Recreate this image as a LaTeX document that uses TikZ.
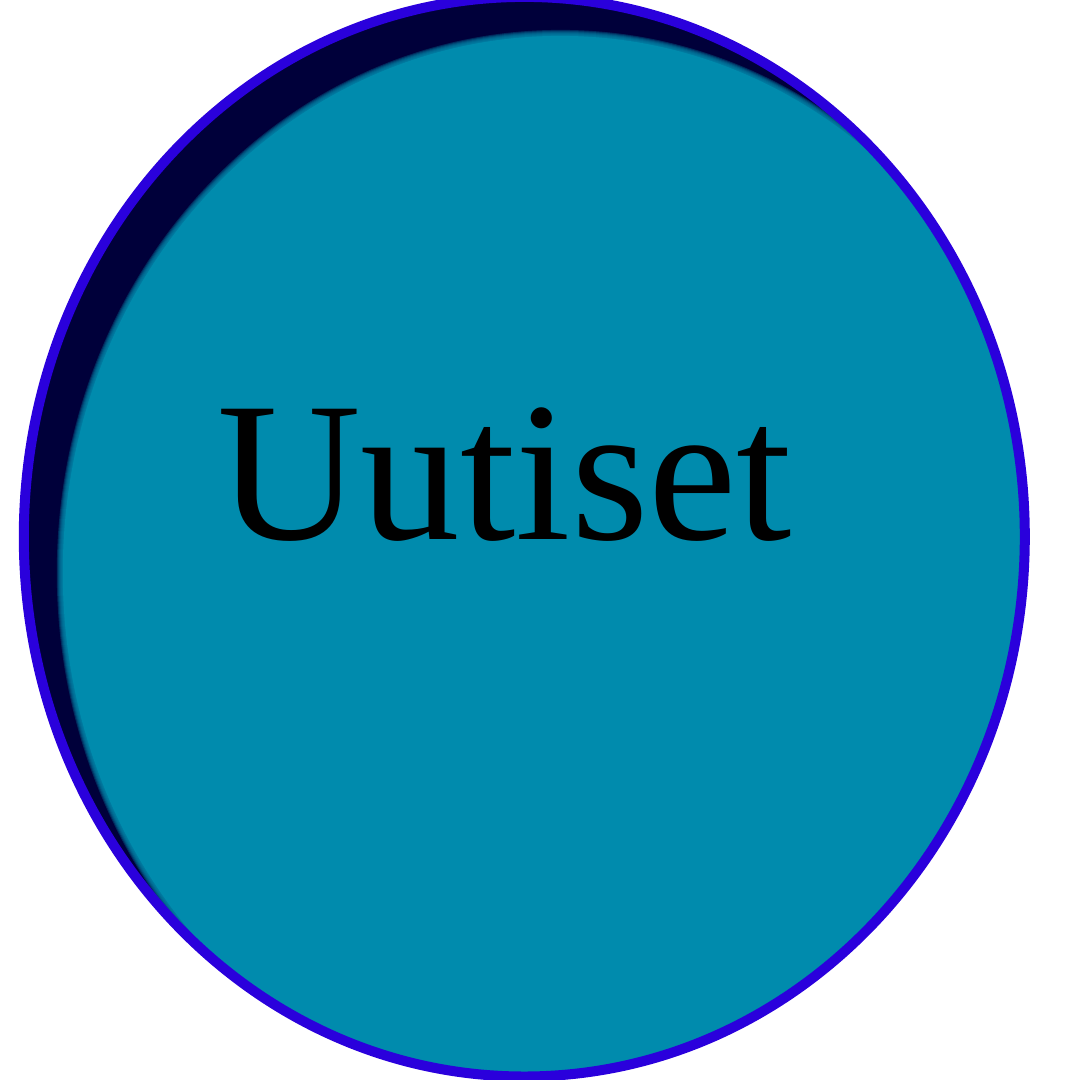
\documentclass[tikz,border=0pt]{standalone}
\usepackage{fontspec}
\setmainfont{Liberation Serif}
\definecolor{rimblue}{RGB}{42,0,220}
\definecolor{navyfill}{RGB}{0,0,58}
\definecolor{tealfill}{RGB}{0,139,173}
\tikzset{
  rim/.style={draw=rimblue, line width=10pt},
  label/.style={font=\fontsize{199}{200}\selectfont, text=black, inner sep=0pt, anchor=base west}
}
\begin{document}
\begin{tikzpicture}[x=1pt,y=-1pt]
\useasboundingbox (0,0) rectangle (1080,1080);
\coordinate (c) at (524.3,536.7);
\coordinate (s) at (560.3,572.7);
\fill[navyfill] (c) ellipse [x radius=500.5pt, y radius=539.8pt];
\begin{scope}
  \clip (c) ellipse [x radius=500.5pt, y radius=539.8pt];
  \foreach \k [evaluate=\k as \rx using 503.5-\k, evaluate=\k as \ry using 542.8-\k] in {0,...,6}
    \fill[tealfill, opacity=0.3] (s) ellipse [x radius=\rx pt, y radius=\ry pt];
  \fill[tealfill] (s) ellipse [x radius=497.5pt, y radius=536.8pt];
\end{scope}
\draw[rim] (c) ellipse [x radius=500.5pt, y radius=539.8pt];
\node[label] (t) at (217,539) {Uutiset};
\end{tikzpicture}
\end{document}
